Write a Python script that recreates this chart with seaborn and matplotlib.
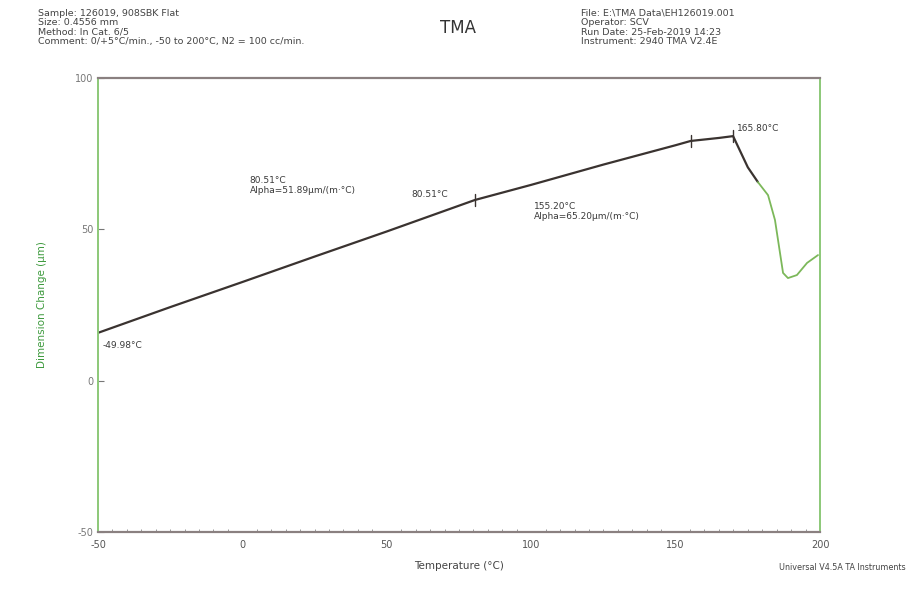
import matplotlib
matplotlib.use("Agg")
import matplotlib.pyplot as plt
import seaborn as sns
import pandas as pd
from matplotlib.ticker import MultipleLocator

# ---- data ----
temp_main = [-50.0, -25.0, 0.0, 25.0, 50.0, 80.51, 100.0, 125.0, 150.0, 155.2, 165.0, 169.9, 175.0, 178.5]
dim_main = [15.8, 24.3, 32.6, 41.0, 49.3, 59.7, 64.7, 71.4, 77.8, 79.2, 80.2, 80.8, 70.5, 65.6]
temp_tail = [178.5, 182.0, 184.4, 187.2, 188.9, 192.0, 195.5, 199.3]
dim_tail = [65.6, 61.3, 53.1, 35.6, 33.9, 34.9, 38.9, 41.5]
marker_temps = [80.51, 155.2, 169.9]
marker_dims = [59.7, 79.2, 80.8]

x_ticks = [-50, 0, 50, 100, 150, 200]
y_ticks = [-50, 0, 50, 100]

header_left = ["Sample: 126019, 908SBK Flat", "Size: 0.4556 mm", "Method: In Cat. 6/5",
               "Comment: 0/+5°C/min., -50 to 200°C, N2 = 100 cc/min."]
header_right = ["File: E:\\TMA Data\\EH126019.001", "Operator: SCV",
                "Run Date: 25-Feb-2019 14:23", "Instrument: 2940 TMA V2.4E"]

sns.set_style("white")
plt.rcParams['font.family'] = ['DejaVu Sans']
plt.rcParams['axes.unicode_minus'] = False

fig = plt.figure(figsize=(9.19, 5.91), dpi=100)
ax = fig.add_axes([0.1066, 0.0998, 0.7857, 0.7682])

df_main = pd.DataFrame({"T": temp_main, "D": dim_main})
df_tail = pd.DataFrame({"T": temp_tail, "D": dim_tail})
sns.lineplot(data=df_main, x="T", y="D", ax=ax, color="#3a3330", lw=1.6, sort=False)
sns.lineplot(data=df_tail, x="T", y="D", ax=ax, color="#7cb85a", lw=1.3, sort=False)

for t, d in zip(marker_temps, marker_dims):
    ax.plot([t, t], [d - 2.0, d + 2.0], color="#3a3330", lw=1.0)

ax.set_xlim(-50, 200)
ax.set_ylim(-50, 100)
ax.set_xticks(x_ticks)
ax.set_yticks(y_ticks)
ax.xaxis.set_minor_locator(MultipleLocator(5))
ax.tick_params(axis="x", which="major", direction="in", length=5, labelsize=7, colors="#555555", pad=6)
ax.tick_params(axis="x", which="minor", direction="in", length=2.5, color="#888888", bottom=True)
ax.tick_params(axis="y", which="major", direction="in", length=4, labelsize=7, colors="#777777", left=True)

for s in ["left", "right"]:
    ax.spines[s].set_color("#8cc878")
    ax.spines[s].set_linewidth(1.4)
for s in ["top", "bottom"]:
    ax.spines[s].set_color("#8a8080")
    ax.spines[s].set_linewidth(1.6)

ax.set_xlabel("Temperature (°C)", fontsize=7.5, color="#444444", labelpad=8)
ax.set_ylabel("Dimension Change (µm)", fontsize=7.5, color="#3d9a3d", labelpad=20)

fs = 6.5
tc = "#3a3a3a"
ax.text(-48.5, 13.0, "-49.98°C", fontsize=fs, color=tc, va="top")
ax.text(2.5, 64.5, "80.51°C\nAlpha=51.89µm/(m·°C)", fontsize=fs, color=tc, va="center", linespacing=1.1)
ax.text(58.5, 61.5, "80.51°C", fontsize=fs, color=tc, va="center")
ax.text(101, 56.0, "155.20°C\nAlpha=65.20µm/(m·°C)", fontsize=fs, color=tc, va="center", linespacing=1.1)
ax.text(171.2, 83.2, "165.80°C", fontsize=fs, color=tc, va="center")

fig.text(0.041, 0.985, "\n".join(header_left), fontsize=6.8, color="#444444", va="top", linespacing=1.05)
fig.text(0.632, 0.985, "\n".join(header_right), fontsize=6.8, color="#444444", va="top", linespacing=1.05)
fig.text(0.498, 0.953, "TMA", fontsize=12, color="#333333", ha="center", va="center")
fig.text(0.985, 0.040, "Universal V4.5A TA Instruments", fontsize=5.8, color="#444444", ha="right", va="center")

fig.savefig("out.png", dpi=100, facecolor="white")
